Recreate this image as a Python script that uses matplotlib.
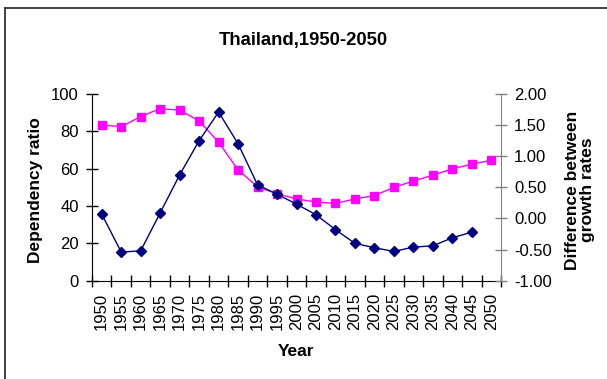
import matplotlib.pyplot as plt
from matplotlib.lines import Line2D
from matplotlib.ticker import FixedLocator, FormatStrFormatter

plt.rcParams["font.family"] = ["Liberation Sans", "DejaVu Sans"]
plt.rcParams["axes.unicode_minus"] = False

years = [str(y) for y in range(1950, 2055, 5)]

# Dependency ratio (left axis)
dependency_ratio = [83.4, 82.5, 87.9, 92.2, 91.3, 85.6, 74.2, 59.3, 50.3, 46.6,
                    43.8, 42.1, 41.4, 43.8, 45.6, 50.0, 53.4, 56.5, 59.9, 62.4, 64.5]

# Difference between growth rates (right axis), no value for 2050
growth_diff = [0.07, -0.54, -0.52, 0.09, 0.70, 1.25, 1.71, 1.20, 0.54, 0.39,
               0.23, 0.06, -0.18, -0.40, -0.47, -0.53, -0.46, -0.44, -0.31, -0.22]

W, H = 607, 379
fig = plt.figure(figsize=(W / 100, H / 100), dpi=100)
fig.patch.set_facecolor("white")

# chart frame (top and left edges)
fig.add_artist(Line2D([5 / W, 1.0], [1 - 8 / H, 1 - 8 / H], transform=fig.transFigure,
                      color="#333333", lw=1.3))
fig.add_artist(Line2D([5 / W, 5 / W], [1 - 8 / H, 0.0], transform=fig.transFigure,
                      color="#333333", lw=1.3))

left, right, top, bottom = 92, 501, 94, 280.7
ax = fig.add_axes([left / W, 1 - bottom / H, (right - left) / W, (bottom - top) / H])
ax2 = ax.twinx()

x = list(range(len(years)))
ax.plot(x, dependency_ratio, color="#FF00FF", lw=1.0, marker="s", markersize=6,
        markeredgecolor="#FF00FF", markerfacecolor="#FF00FF")
ax2.plot(x[:len(growth_diff)], growth_diff, color="#000080", lw=1.0, marker="D",
         markersize=5.5, markeredgecolor="#000080", markerfacecolor="#000080")

ax.set_xlim(-0.5, len(years) - 0.5)
ax.set_ylim(0, 100)
ax2.set_ylim(-1.0, 2.0)

ax.set_yticks(range(0, 101, 20))
ax2.set_yticks([-1.0, -0.5, 0.0, 0.5, 1.0, 1.5, 2.0])
ax2.yaxis.set_major_formatter(FormatStrFormatter("%.2f"))

ax.set_xticks(x)
ax.set_xticklabels(years, rotation=90)
ax.xaxis.set_minor_locator(FixedLocator([i - 0.5 for i in range(len(years) + 1)]))

for a in (ax, ax2):
    a.spines["top"].set_visible(False)
    a.patch.set_visible(False)

ax.spines["right"].set_visible(False)
ax.spines["left"].set_color("black")
ax.spines["bottom"].set_color("black")
ax2.spines["left"].set_visible(False)
ax2.spines["bottom"].set_visible(False)
ax2.spines["right"].set_color("#808080")

ax.tick_params(axis="x", which="major", length=0, pad=9, labelsize=12)
ax.tick_params(axis="x", which="minor", direction="inout", length=9, width=1, color="black")
ax.tick_params(axis="y", direction="inout", length=9, width=1, pad=5, labelsize=12)
ax2.tick_params(axis="y", direction="inout", length=9, width=1, pad=5, labelsize=12,
                color="#808080")

fig.text(303.5 / W, 1 - 40 / H, "Thailand,1950-2050", ha="center", va="center",
         fontsize=13.3, fontweight="bold")
fig.text(296.5 / W, 1 - 352 / H, "Year", ha="center", va="center",
         fontsize=12.5, fontweight="bold")
fig.text(36 / W, 1 - 190 / H, "Dependency ratio", ha="center", va="center",
         rotation=90, fontsize=12.5, fontweight="bold")
fig.text(580 / W, 1 - 190 / H, "Difference between\ngrowth rates", ha="center",
         va="center", rotation=90, fontsize=12.5, fontweight="bold", linespacing=1.05)

fig.savefig("out.png", dpi=100, facecolor="white")
